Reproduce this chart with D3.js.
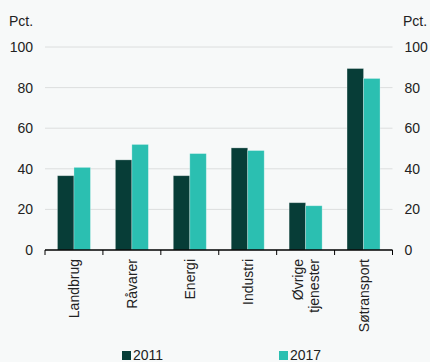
<!DOCTYPE html>
<html><head><meta charset="utf-8">
<script src="https://cdn.jsdelivr.net/npm/d3@7"></script>
<style>
html,body{margin:0;padding:0;background:#f7f9f9;}
svg{display:block;font-family:"Liberation Sans",Arial,sans-serif;}
</style></head>
<body><svg id="c" width="430" height="362"></svg>
<script>
const categories = ["Landbrug","Råvarer","Energi","Industri","Øvrige\ntjenester","Søtransport"];
const series = ["2011","2017"];
const values2011 = [36.6, 44.4, 36.6, 50.3, 23.3, 89.4];
const values2017 = [40.7, 52.0, 47.5, 49.0, 21.8, 84.5];
const yTicks = [0,20,40,60,80,100];
const colors = ["#073d37","#2bbfb1"];

const svg = d3.select("#c");
const L = 45, R = 392.5, T = 47, B = 250;
const x = d3.scaleBand().domain(categories).range([L,R]).paddingInner(0).paddingOuter(0);
const x1 = d3.scaleBand().domain(series).range([0, x.bandwidth()]).paddingInner(0).paddingOuter(0.755);
const y = d3.scaleLinear().domain([0,100]).range([B,T]);

// gridlines
svg.append("g").selectAll("line").data(yTicks.filter(d=>d>0)).join("line")
  .attr("x1",L).attr("x2",R).attr("y1",d=>y(d)).attr("y2",d=>y(d))
  .attr("stroke","#dcdede").attr("stroke-width",1);

// y labels left/right
const yl = d3.axisLeft(y).tickValues(yTicks).tickSize(0).tickPadding(12);
const gL = svg.append("g").attr("transform",`translate(${L},0)`).call(yl);
gL.select(".domain").remove();
gL.selectAll("text").attr("font-size",14).attr("fill","#222").attr("font-family","Liberation Sans, Arial, sans-serif");
const yr = d3.axisRight(y).tickValues(yTicks).tickSize(0).tickPadding(12);
const gR = svg.append("g").attr("transform",`translate(${R},0)`).call(yr);
gR.select(".domain").remove();
gR.selectAll("text").attr("font-size",14).attr("fill","#222").attr("font-family","Liberation Sans, Arial, sans-serif");

svg.append("text").attr("x",9).attr("y",26).attr("font-size",14).attr("fill","#222").text("Pct.");
svg.append("text").attr("x",403).attr("y",26).attr("font-size",14).attr("fill","#222").text("Pct.");

// bars
const data = categories.map((c,i)=>({c, v:[values2011[i], values2017[i]]}));
const g = svg.append("g");
data.forEach(d=>{
  series.forEach((s,j)=>{
    g.append("rect")
      .attr("x", x(d.c)+x1(s)).attr("width", x1.bandwidth())
      .attr("y", y(d.v[j])).attr("height", y(0)-y(d.v[j]))
      .attr("fill", colors[j])
      .attr("stroke","rgba(255,255,255,0.35)").attr("stroke-width",0.8);
  });
});

// baseline and ticks
svg.append("line").attr("x1",L).attr("x2",R).attr("y1",B).attr("y2",B).attr("stroke","#000").attr("stroke-width",1.6);
const bounds = categories.map(c=>x(c)).concat([R]);
svg.append("g").selectAll("line").data(bounds).join("line")
  .attr("x1",d=>d).attr("x2",d=>d).attr("y1",B).attr("y2",B+5)
  .attr("stroke","#000").attr("stroke-width",1);

// category labels rotated
categories.forEach(c=>{
  const lines = c.split("\n");
  const cx = x(c)+x.bandwidth()/2;
  const t = svg.append("text").attr("transform",`translate(${cx},${B+9}) rotate(-90)`)
    .attr("text-anchor","end").attr("font-size",14).attr("fill","#222");
  const n = lines.length;
  lines.forEach((ln,k)=>{
    t.append("tspan").attr("x",0).attr("dy", k===0 ? (5 - (n-1)*8) : 16).text(ln);
  });
});

// legend
const leg = [{s:"2011",x:122},{s:"2017",x:279}];
leg.forEach((d,i)=>{
  svg.append("rect").attr("x",d.x).attr("y",351).attr("width",9).attr("height",9).attr("fill",colors[i]);
  svg.append("text").attr("x",d.x+11).attr("y",360).attr("font-size",14).attr("fill","#222").text(d.s);
});
</script></body></html>
